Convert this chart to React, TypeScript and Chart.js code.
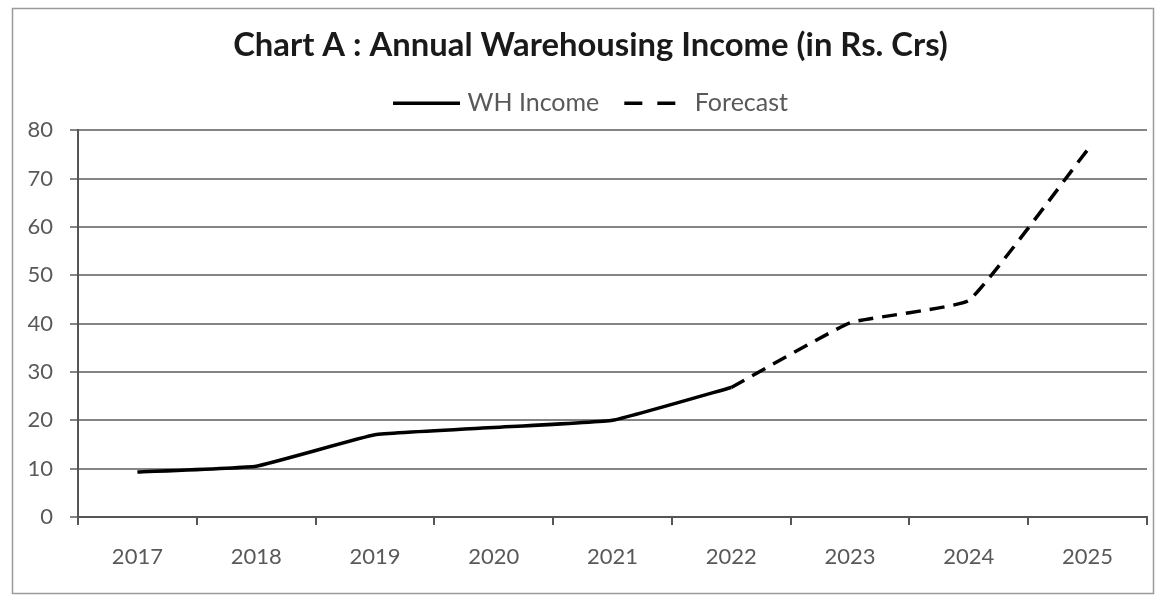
import React, { useEffect, useRef } from "react";
import { Chart, registerables } from "chart.js";

Chart.register(...registerables);

const years = ["2017", "2018", "2019", "2020", "2021", "2022", "2023", "2024", "2025"];
const whIncome = [9.3, 10.5, 17, 18.5, 20, 26.8, null, null, null];
const forecast = [null, null, null, null, null, 26.8, 40.2, 44.8, 76];
const yMin = 0;
const yMax = 80;
const yStep = 10;
const titleText = "Chart A : Annual Warehousing Income (in Rs. Crs)";

const W = 1156;
const H = 595;
const FONT = "Lato";
const LINE_DASH = [15, 9];
const LEGEND_DASH = [18, 15];
const PAD_LEFT = 20;
const PAD_RIGHT = -5;

export default function App() {
  const ref = useRef<HTMLCanvasElement>(null);
  useEffect(() => {
    if (!ref.current) return;
    const framePlugin = {
      id: "frame",
      beforeDraw(chart: any) {
        const ctx = chart.ctx;
        ctx.save();
        ctx.fillStyle = "#ffffff";
        ctx.fillRect(0, 0, W, H);
        ctx.strokeStyle = "#9a9a9a";
        ctx.lineWidth = 1.5;
        ctx.strokeRect(12.5, 8.5, 1141, 585);
        ctx.restore();
      },
      afterDraw(chart: any) {
        const legend = chart.legend;
        if (!legend || !legend.legendHitBoxes) return;
        const ctx = chart.ctx;
        ctx.save();
        ctx.strokeStyle = "#000000";
        ctx.lineWidth = 3.5;
        ctx.lineCap = "butt";
        legend.legendHitBoxes.forEach((hb: any, i: number) => {
          const y = hb.top + hb.height / 2;
          ctx.beginPath();
          if (i === 0) {
            ctx.setLineDash([]);
            ctx.moveTo(hb.left, y);
            ctx.lineTo(hb.left + 67, y);
          } else {
            ctx.setLineDash(LEGEND_DASH);
            ctx.moveTo(hb.left + 4, y);
            ctx.lineTo(hb.left + 56, y);
          }
          ctx.stroke();
        });
        ctx.restore();
      },
    };
    const chart = new Chart(ref.current, {
      type: "line",
      data: {
        labels: years,
        datasets: [
          {
            label: "WH Income",
            data: whIncome,
            borderColor: "#000000",
            backgroundColor: "#000000",
            borderWidth: 3.5,
            pointRadius: 0,
            tension: 0.1,
          },
          {
            label: "Forecast",
            data: forecast,
            borderColor: "#000000",
            backgroundColor: "#000000",
            borderWidth: 3.5,
            borderDash: LINE_DASH,
            pointRadius: 0,
            tension: 0.1,
          },
        ],
      },
      options: {
        responsive: false,
        animation: false,
        layout: { padding: { left: PAD_LEFT, right: PAD_RIGHT, top: 8, bottom: 2 } },
        plugins: {
          tooltip: { enabled: false },
          title: {
            display: true,
            text: titleText,
            color: "#1a1a1a",
            font: { family: FONT, size: 32.8, weight: "bold" },
            padding: { top: 18, bottom: 0 },
          },
          legend: {
            display: true,
            labels: {
              usePointStyle: false,
              boxWidth: 62,
              boxHeight: 34,
              color: "#595959",
              font: { family: FONT, size: 25 },
              padding: 21,
              generateLabels(chart: any) {
                const items = Chart.defaults.plugins.legend.labels.generateLabels(chart);
                return items.map((it: any) => ({
                  ...it,
                  fillStyle: "rgba(0,0,0,0)",
                  strokeStyle: "rgba(0,0,0,0)",
                  lineWidth: 0,
                }));
              },
            },
          },
        },
        scales: {
          x: {
            type: "category",
            offset: true,
            afterFit(scale: any) {
              scale.height = 595 - 517 - 2;
            },
            grid: {
              offset: true,
              drawOnChartArea: false,
              drawTicks: true,
              tickLength: 8,
              color: "#555555",
              lineWidth: 2,
            },
            border: { display: true, color: "#555555", width: 2 },
            ticks: {
              color: "#595959",
              font: { family: FONT, size: 22 },
              padding: 19,
              maxRotation: 0,
            },
          },
          y: {
            min: yMin,
            max: yMax,
            afterFit(scale: any) {
              scale.width = 78 - PAD_LEFT;
            },
            grid: {
              drawTicks: true,
              tickLength: 8,
              color: "#858585",
              lineWidth: 2,
            },
            border: { display: true, color: "#555555", width: 2 },
            ticks: {
              stepSize: yStep,
              color: "#595959",
              font: { family: FONT, size: 22 },
              padding: 17,
            },
          },
          spacer: {
            type: "linear",
            position: "right",
            display: true,
            afterFit(scale: any) {
              scale.width = 1156 - 1147 - PAD_RIGHT;
            },
            grid: { display: false, drawTicks: false },
            border: { display: false },
            ticks: { display: false },
          },
        },
      },
      plugins: [framePlugin],
    } as any);
    return () => chart.destroy();
  }, []);
  return (
    <div style={{ position: "fixed", left: 0, top: 0, width: W, height: H, background: "#fff" }}>
      <canvas ref={ref} width={W} height={H} style={{ display: "block", width: W, height: H }} />
    </div>
  );
}
